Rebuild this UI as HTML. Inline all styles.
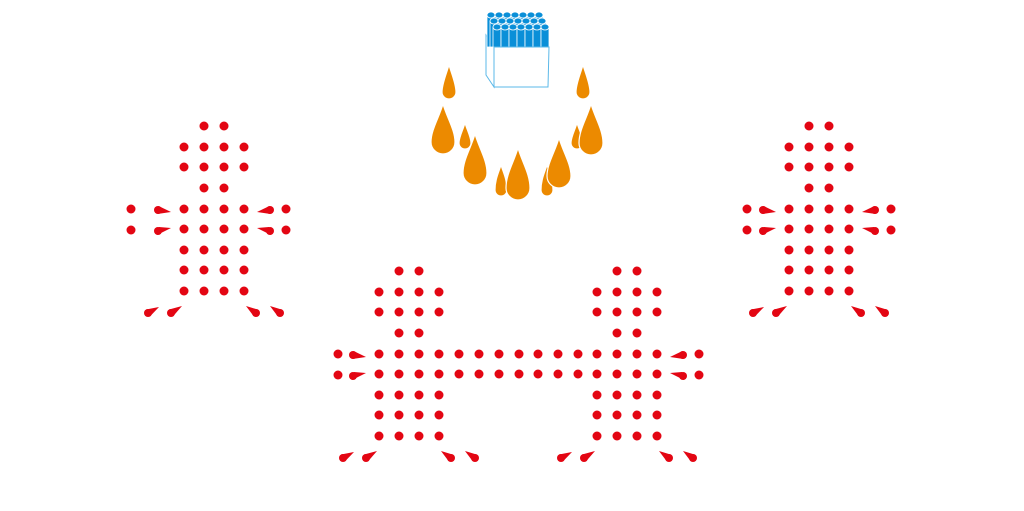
<!DOCTYPE html>
<html><head><meta charset="utf-8"><style>html,body{margin:0;padding:0;background:#fff}svg{display:block}</style></head>
<body>
<svg width="1024" height="511" viewBox="0 0 1024 511" xmlns="http://www.w3.org/2000/svg">
<defs>
<g id="body" fill="#e30613">
<circle cx="204" cy="126" r="4.5"/><circle cx="224" cy="126" r="4.5"/>
<circle cx="184" cy="147" r="4.5"/><circle cx="204" cy="147" r="4.5"/><circle cx="224" cy="147" r="4.5"/><circle cx="244" cy="147" r="4.5"/>
<circle cx="184" cy="167" r="4.5"/><circle cx="204" cy="167" r="4.5"/><circle cx="224" cy="167" r="4.5"/><circle cx="244" cy="167" r="4.5"/>
<circle cx="204" cy="188" r="4.5"/><circle cx="224" cy="188" r="4.5"/>
<circle cx="184" cy="209" r="4.5"/><circle cx="204" cy="209" r="4.5"/><circle cx="224" cy="209" r="4.5"/><circle cx="244" cy="209" r="4.5"/>
<circle cx="184" cy="229" r="4.5"/><circle cx="204" cy="229" r="4.5"/><circle cx="224" cy="229" r="4.5"/><circle cx="244" cy="229" r="4.5"/>
<circle cx="184" cy="250" r="4.5"/><circle cx="204" cy="250" r="4.5"/><circle cx="224" cy="250" r="4.5"/><circle cx="244" cy="250" r="4.5"/>
<circle cx="184" cy="270" r="4.5"/><circle cx="204" cy="270" r="4.5"/><circle cx="224" cy="270" r="4.5"/><circle cx="244" cy="270" r="4.5"/>
<circle cx="184" cy="291" r="4.5"/><circle cx="204" cy="291" r="4.5"/><circle cx="224" cy="291" r="4.5"/><circle cx="244" cy="291" r="4.5"/>
<circle cx="148" cy="313" r="4"/><path d="M159,307 L149.9,316.5 L146.1,309.5Z"/>
<circle cx="171" cy="313" r="4"/><path d="M182,306 L172.9,316.5 L169.1,309.5Z"/>
<circle cx="256" cy="313" r="4"/><path d="M246,306 L258.3,309.7 L253.7,316.3Z"/>
<circle cx="280" cy="313" r="4"/><path d="M270,306 L282.3,309.7 L277.7,316.3Z"/>
</g>
<g id="larm" fill="#e30613">
<circle cx="158" cy="210" r="4"/><path d="M171,212 L158.6,206 L157.4,214Z"/>
<circle cx="158" cy="231" r="4"/><path d="M171,228 L159,227 L157,235Z"/>
</g>
<g id="rarm" fill="#e30613">
<circle cx="286" cy="209" r="4.5"/><circle cx="286" cy="230" r="4.5"/>
<circle cx="270" cy="210" r="4"/><path d="M257,212 L269.4,206 L270.6,214Z"/>
<circle cx="270" cy="231" r="4"/><path d="M257,228 L269,227 L271,235Z"/>
</g>
</defs>
<use href="#body"/><use href="#larm"/><use href="#rarm"/>
<g transform="translate(605,0)"><use href="#body"/><use href="#larm"/><use href="#rarm"/></g>
<g transform="translate(195,145)"><use href="#body"/><use href="#larm"/></g>
<g transform="translate(413,145)"><use href="#body"/><use href="#rarm"/></g>
<g fill="#e30613">
<circle cx="131" cy="209" r="4.5"/><circle cx="131" cy="230" r="4.5"/>
<circle cx="747" cy="209" r="4.5"/><circle cx="747" cy="230" r="4.5"/>
<circle cx="338" cy="354" r="4.5"/><circle cx="338" cy="375" r="4.5"/>
<circle cx="459" cy="354" r="4.5"/><circle cx="479" cy="354" r="4.5"/><circle cx="499" cy="354" r="4.5"/><circle cx="519" cy="354" r="4.5"/><circle cx="538" cy="354" r="4.5"/><circle cx="558" cy="354" r="4.5"/><circle cx="578" cy="354" r="4.5"/>
<circle cx="459" cy="374" r="4.5"/><circle cx="479" cy="374" r="4.5"/><circle cx="499" cy="374" r="4.5"/><circle cx="519" cy="374" r="4.5"/><circle cx="538" cy="374" r="4.5"/><circle cx="558" cy="374" r="4.5"/><circle cx="578" cy="374" r="4.5"/>
</g>
<!-- box -->
<g stroke="#5bb8e8" stroke-width="1" fill="#fff">
<path d="M486,35 L494,47 L494,87 L486,75Z"/>
</g>
<g fill="#0a8fd8" stroke="#fff" stroke-width="0.8">
<rect x="487" y="15" width="8" height="32"/><rect x="495" y="15" width="8" height="32"/><rect x="503" y="15" width="8" height="32"/><rect x="511" y="15" width="8" height="32"/><rect x="519" y="15" width="8" height="32"/><rect x="527" y="15" width="8" height="32"/><rect x="535" y="15" width="8" height="32"/>
<ellipse cx="491" cy="15" rx="4" ry="3"/><ellipse cx="499" cy="15" rx="4" ry="3"/><ellipse cx="507" cy="15" rx="4" ry="3"/><ellipse cx="515" cy="15" rx="4" ry="3"/><ellipse cx="523" cy="15" rx="4" ry="3"/><ellipse cx="531" cy="15" rx="4" ry="3"/><ellipse cx="539" cy="15" rx="4" ry="3"/>
<rect x="490" y="21" width="8" height="26"/><rect x="498" y="21" width="8" height="26"/><rect x="506" y="21" width="8" height="26"/><rect x="514" y="21" width="8" height="26"/><rect x="522" y="21" width="8" height="26"/><rect x="530" y="21" width="8" height="26"/><rect x="538" y="21" width="8" height="26"/>
<ellipse cx="494" cy="21" rx="4" ry="3"/><ellipse cx="502" cy="21" rx="4" ry="3"/><ellipse cx="510" cy="21" rx="4" ry="3"/><ellipse cx="518" cy="21" rx="4" ry="3"/><ellipse cx="526" cy="21" rx="4" ry="3"/><ellipse cx="534" cy="21" rx="4" ry="3"/><ellipse cx="542" cy="21" rx="4" ry="3"/>
<rect x="493" y="27" width="8" height="20"/><rect x="501" y="27" width="8" height="20"/><rect x="509" y="27" width="8" height="20"/><rect x="517" y="27" width="8" height="20"/><rect x="525" y="27" width="8" height="20"/><rect x="533" y="27" width="8" height="20"/><rect x="541" y="27" width="8" height="20"/>
<ellipse cx="497" cy="27" rx="4" ry="3"/><ellipse cx="505" cy="27" rx="4" ry="3"/><ellipse cx="513" cy="27" rx="4" ry="3"/><ellipse cx="521" cy="27" rx="4" ry="3"/><ellipse cx="529" cy="27" rx="4" ry="3"/><ellipse cx="537" cy="27" rx="4" ry="3"/><ellipse cx="545" cy="27" rx="4" ry="3"/>
</g>
<path d="M494,47 L549,47 L548,87 L494,87Z" fill="#fff" stroke="#5bb8e8" stroke-width="1"/>
<!-- orange drops -->
<g fill="#ec8a00" stroke="#fff" stroke-width="1.2">
<path d="M449,65 C452,75 456,84 456,92 A7,7 0 0 1 442,92 C442,84 446,75 449,65Z"/>
<path d="M583,65 C586,75 590,84 590,92 A7,7 0 0 1 576,92 C576,84 580,75 583,65Z"/>
<path d="M465,123 C467,130 471,137 471,143 A6,6 0 0 1 459,143 C459,137 463,130 465,123Z"/>
<path d="M577,123 C579,130 583,137 583,143 A6,6 0 0 1 571,143 C571,137 575,130 577,123Z"/>
<path d="M443,104 C447,118 455,130 455,142 A12,12 0 0 1 431,142 C431,130 439,118 443,104Z"/>
<path d="M591,104 C595,118 603,130 603,143 A12,12 0 0 1 579,143 C579,130 587,118 591,104Z"/>
<path d="M475,134 C479,148 487,160 487,173 A12,12 0 0 1 463,173 C463,160 471,148 475,134Z"/>
<path d="M501,165 C503,172 507,179 507,190 A6,6 0 0 1 495,190 C495,179 499,172 501,165Z"/>
<path d="M547,165 C549,172 553,179 553,190 A6,6 0 0 1 541,190 C541,179 545,172 547,165Z"/>
<path d="M518,148 C522,162 530,174 530,188 A12,12 0 0 1 506,188 C506,174 514,162 518,148Z"/>
<path d="M559,138 C563,152 571,164 571,176 A12,12 0 0 1 547,176 C547,164 555,152 559,138Z"/>
</g>
</svg>
</body></html>
